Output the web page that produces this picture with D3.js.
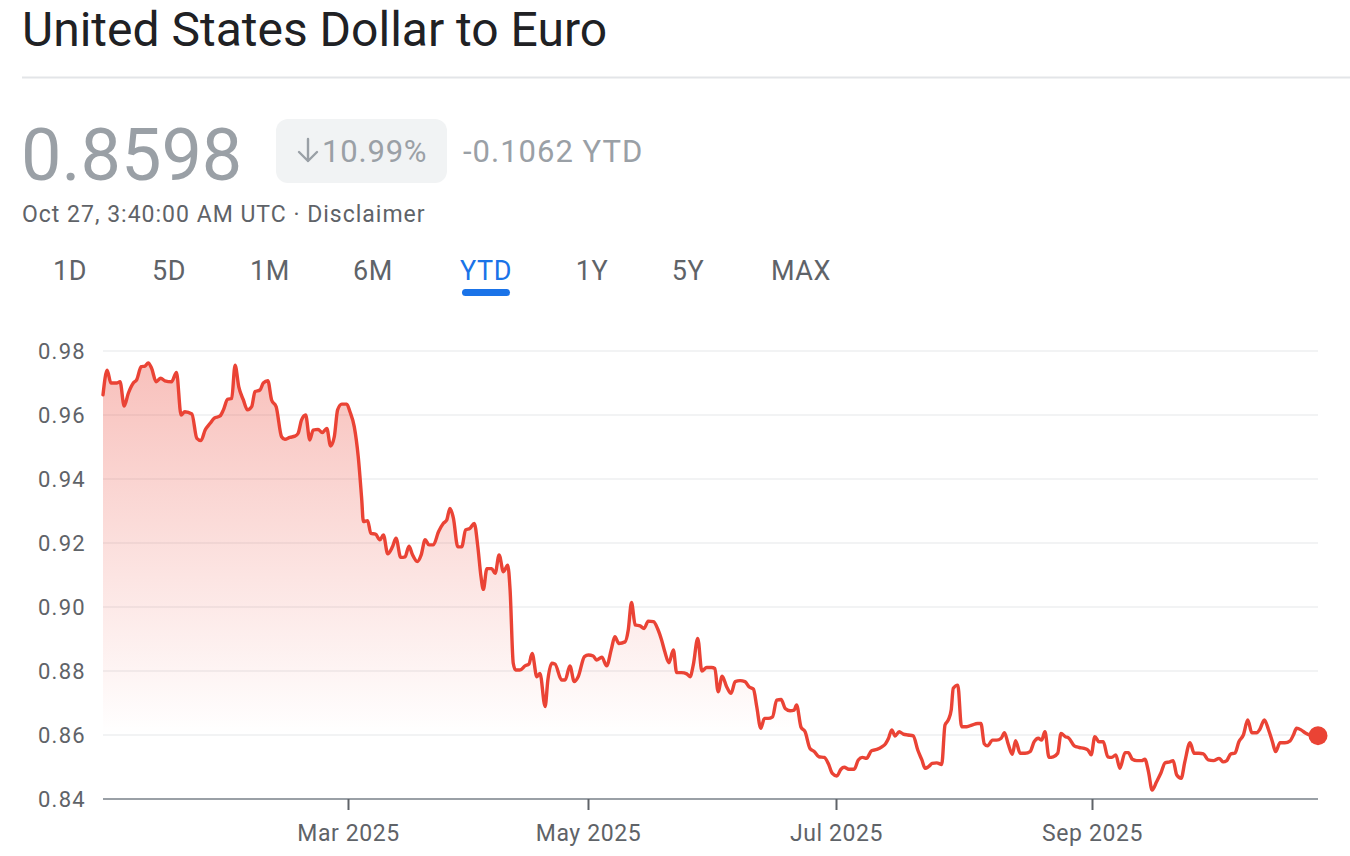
<!DOCTYPE html>
<html>
<head>
<meta charset="utf-8">
<script src="https://cdn.jsdelivr.net/npm/d3@7"></script>
<style>
  html, body { margin: 0; padding: 0; background: #fff; }
  svg { display: block; }
  text { font-family: Roboto, "Noto Sans", sans-serif; }
</style>
</head>
<body>
<svg id="chart" width="1350" height="856"></svg>
<script>
// ---------------- DATA ----------------
const title = "United States Dollar to Euro";
const lastPrice = "0.8598";
const changePct = "10.99%";
const changeAbs = "-0.1062 YTD";
const timestamp = "Oct 27, 3:40:00 AM UTC · Disclaimer";
const ranges = ["1D", "5D", "1M", "6M", "YTD", "1Y", "5Y", "MAX"];
const activeRange = "YTD";

const yTicks = [0.84, 0.86, 0.88, 0.90, 0.92, 0.94, 0.96, 0.98];
const xTickDates = ["2025-03-01", "2025-05-01", "2025-07-01", "2025-09-01"];
const xTickLabels = ["Mar 2025", "May 2025", "Jul 2025", "Sep 2025"];
const periodStart = "2025-01-01";
const periodEnd = "2025-10-27";

// [days since Jan 1 2025, USD->EUR rate]
const rateSeries = [
  [0,0.9663],[1.0,0.9740],[1.9,0.9700],[3.3,0.9700],[4.1,0.9704],[5.1,0.9628],[6.1,0.9668],[7.3,0.9700],
  [8.1,0.9710],[9.2,0.9751],[10.1,0.9753],[10.9,0.9763],[11.7,0.9746],[12.8,0.9704],[13.9,0.9715],[14.9,0.9707],
  [16.5,0.9704],[17.7,0.9733],[18.8,0.9600],[19.7,0.9610],[21.4,0.9603],[22.6,0.9527],[23.6,0.9520],[24.6,0.9553],
  [25.8,0.9574],[26.8,0.9590],[28.2,0.9597],[29.0,0.9616],[30.0,0.9649],[31.0,0.9652],[31.8,0.9756],[32.7,0.9688],
  [33.8,0.9647],[34.8,0.9616],[35.8,0.9626],[36.6,0.9673],[37.8,0.9678],[38.6,0.9700],[39.7,0.9707],[40.6,0.9647],
  [41.7,0.9626],[43.0,0.9532],[43.8,0.9524],[45.0,0.9530],[46.2,0.9534],[47.0,0.9543],[47.8,0.9584],[48.8,0.9600],
  [49.8,0.9522],[50.6,0.9553],[51.8,0.9555],[52.8,0.9545],[53.9,0.9558],[54.8,0.9503],[55.7,0.9532],[56.5,0.9616],
  [57.5,0.9634],[58.7,0.9634],
  [59.5,0.9610],[60.6,0.9563],[61.6,0.9470],[62.5,0.9334],[62.9,0.9267],[64.0,0.9270],[64.8,0.9230],[66.0,0.9228],
  [67.1,0.9210],[68.0,0.9225],[69.1,0.9166],[70.3,0.9188],[71.2,0.9215],[72.4,0.9155],[73.5,0.9157],[74.5,0.9190],
  [75.4,0.9163],[76.6,0.9142],[77.6,0.9163],[78.6,0.9210],[79.6,0.9194],[80.7,0.9194],[82.0,0.9235],[83.2,0.9261],
  [84.1,0.9272],[84.9,0.9308],[85.8,0.9277],[86.9,0.9188],[87.9,0.9188],[88.9,0.9241],[90.0,0.9246],[91.1,0.9261],
  [92.0,0.9188],[92.8,0.9095],[93.4,0.9055],[94.3,0.9120],[95.5,0.9120],[96.4,0.9105],[97.4,0.9163],[98.5,0.9110],
  [99.6,0.9131],[100.2,0.9053],[101.0,0.8824],[101.6,0.8803],[102.7,0.8803],[104.0,0.8816],[105.0,0.8822],[105.8,0.8855],
  [107.0,0.8782],[107.8,0.8792],[109.1,0.8689],[109.8,0.8772],[110.8,0.8824],[111.6,0.8822],[113.3,0.8772],[114.2,0.8772],
  [115.4,0.8816],[116.5,0.8767],[117.5,0.8782],[119.1,0.8845],
  [120.1,0.8850],[121.3,0.8847],[122.1,0.8834],[123.4,0.8843],[124.6,0.8816],[125.7,0.8866],[126.6,0.8907],[127.6,0.8886],
  [129.1,0.8891],[129.9,0.8928],[130.7,0.9014],[131.6,0.8944],[132.8,0.8941],[133.8,0.8933],[134.8,0.8956],[136.1,0.8954],
  [137.1,0.8933],[138.1,0.8897],[138.9,0.8860],[139.9,0.8826],[141.0,0.8866],[141.8,0.8795],[143.0,0.8795],[144.3,0.8791],
  [145.1,0.8782],[145.9,0.8819],[147.0,0.8902],[148.0,0.8800],[149.2,0.8811],[150.4,0.8811],[151.2,0.8808],[152.0,0.8735],
  [153.0,0.8784],[154.1,0.8751],[155.2,0.8730],[156.2,0.8767],[157.4,0.8770],[158.6,0.8767],[159.6,0.8751],[160.7,0.8743],
  [161.5,0.8689],[162.5,0.8621],[163.4,0.8652],[164.3,0.8652],[165.4,0.8657],[166.4,0.8709],[167.5,0.8711],[168.5,0.8683],
  [169.7,0.8676],[170.7,0.8678],[171.3,0.8694],[172.4,0.8624],[173.4,0.8610],[174.6,0.8558],[175.7,0.8548],[176.8,0.8532],
  [178.1,0.8530],[179.1,0.8511],[180.1,0.8480],
  [181.2,0.8472],[182.2,0.8493],[183.0,0.8499],[184.1,0.8493],[185.4,0.8493],[186.4,0.8522],[187.4,0.8530],[188.4,0.8527],
  [189.6,0.8551],[190.9,0.8555],[192.1,0.8563],[193.0,0.8573],[193.7,0.8589],[194.5,0.8616],[195.3,0.8597],[196.3,0.8610],
  [197.3,0.8603],[198.5,0.8600],[199.7,0.8597],[200.8,0.8553],[201.8,0.8522],[202.6,0.8496],[203.4,0.8501],[204.3,0.8511],
  [205.4,0.8513],[206.6,0.8508],[207.4,0.8631],[208.2,0.8647],[208.9,0.8678],[209.4,0.8746],[210.5,0.8756],[211.4,0.8626],
  [212.7,0.8626],[213.9,0.8631],[215.3,0.8636],[216.1,0.8636],[216.9,0.8573],[217.7,0.8566],[218.9,0.8584],[219.9,0.8584],
  [221.0,0.8590],[221.8,0.8607],[222.7,0.8572],[223.7,0.8540],[224.5,0.8582],[225.6,0.8543],[226.8,0.8543],[228.0,0.8548],
  [229.0,0.8579],[230.0,0.8590],[230.8,0.8584],[231.6,0.8610],[232.6,0.8530],[233.6,0.8532],[234.7,0.8543],[235.5,0.8605],
  [236.5,0.8595],[237.4,0.8590],[238.7,0.8566],[239.9,0.8561],[241.1,0.8558],[242.0,0.8553],[242.8,0.8538],
  [243.7,0.8595],[244.7,0.8579],[245.8,0.8579],[246.9,0.8532],[247.9,0.8530],[248.9,0.8538],[249.9,0.8496],[251.2,0.8545],
  [252.0,0.8545],[253.0,0.8524],[254.1,0.8520],[255.3,0.8520],[256.1,0.8524],[257.0,0.8485],[257.9,0.8428],[259.0,0.8454],
  [260.1,0.8482],[261.1,0.8513],[262.3,0.8516],[263.1,0.8520],[264.0,0.8475],[265.1,0.8465],[266.0,0.8516],[267.3,0.8576],
  [268.3,0.8543],[269.5,0.8543],[270.6,0.8541],[271.8,0.8522],[273.1,0.8520],[274.5,0.8527],[275.5,0.8516],[276.4,0.8520],
  [277.4,0.8541],[278.4,0.8543],[279.4,0.8579],[280.5,0.8600],[281.6,0.8647],[282.6,0.8607],[283.8,0.8607],[284.6,0.8618],
  [285.7,0.8647],[286.7,0.8618],[287.7,0.8579],[288.5,0.8548],[289.6,0.8576],[290.8,0.8576],[292.1,0.8582],[292.9,0.8600],
  [293.7,0.8621],[294.8,0.8616],[295.8,0.8607],[297.0,0.8600],[299.0,0.8598]
];

// ---------------- RENDER ----------------
const svg = d3.select("#chart");
const DAY = 864e5;
const t0 = new Date(periodStart + "T00:00:00Z").getTime();
const data = rateSeries.map(([d, v]) => ({ date: new Date(t0 + d * DAY), value: v }));
const parse = s => new Date(s + "T00:00:00Z");

// header
svg.append("text").attr("x", 22).attr("y", 46).attr("font-size", 48)
  .attr("fill", "#202124").text(title);
svg.append("line").attr("x1", 22).attr("x2", 1350).attr("y1", 77.5).attr("y2", 77.5)
  .attr("stroke", "#e3e5e8").attr("stroke-width", 2);

svg.append("text").attr("x", 21).attr("y", 180).attr("font-size", 72)
  .attr("fill", "#9aa0a6").text(lastPrice);
svg.append("rect").attr("x", 276).attr("y", 119).attr("width", 171).attr("height", 64)
  .attr("rx", 12).attr("fill", "#f1f3f4");
// down arrow icon
svg.append("path")
  .attr("d", "M308,139 V161 M299,152 L308,161 L317,152")
  .attr("fill", "none").attr("stroke", "#9aa0a6").attr("stroke-width", 2.4)
  .attr("stroke-linecap", "round").attr("stroke-linejoin", "round");
svg.append("text").attr("x", 322).attr("y", 162).attr("font-size", 31).attr("letter-spacing", 0.8)
  .attr("fill", "#9aa0a6").text(changePct);
svg.append("text").attr("x", 463).attr("y", 162).attr("font-size", 31).attr("letter-spacing", 1)
  .attr("fill", "#9aa0a6").text(changeAbs);
svg.append("text").attr("x", 22).attr("y", 222).attr("font-size", 23).attr("letter-spacing", 1.0)
  .attr("fill", "#5f6368").text(timestamp);

const tabCenters = [70, 169, 270, 373, 486, 592, 688, 801];
ranges.forEach((r, i) => {
  svg.append("text").attr("x", tabCenters[i]).attr("y", 280).attr("font-size", 27)
    .attr("text-anchor", "middle").attr("letter-spacing", 0.6)
    .attr("fill", r === activeRange ? "#1a73e8" : "#5f6368").text(r);
});
const ai = ranges.indexOf(activeRange);
svg.append("rect").attr("x", tabCenters[ai] - 24).attr("y", 289).attr("width", 48).attr("height", 7)
  .attr("rx", 3.5).attr("fill", "#1a73e8");

// scales
const x = d3.scaleUtc()
  .domain([parse(periodStart), ...xTickDates.map(parse), parse(periodEnd)])
  .range([103, 348, 588, 836, 1092, 1318]);
const y = d3.scaleLinear().domain([0.84, 0.98]).range([799, 351]);

// grid
svg.append("g").selectAll("line").data(yTicks.filter(v => v > 0.84)).join("line")
  .attr("x1", 103).attr("x2", 1318)
  .attr("y1", d => y(d)).attr("y2", d => y(d))
  .attr("stroke", "#eeeff0").attr("stroke-width", 1.5);

// y labels
svg.append("g").selectAll("text").data(yTicks).join("text")
  .attr("x", 86).attr("y", d => y(d)).attr("dy", "0.36em")
  .attr("text-anchor", "end").attr("font-size", 22).attr("letter-spacing", 1.3)
  .attr("fill", "#5f6368").text(d => d.toFixed(2));

// area gradient
const defs = svg.append("defs");
const grad = defs.append("linearGradient").attr("id", "fillGrad")
  .attr("gradientUnits", "userSpaceOnUse").attr("x1", 0).attr("x2", 0)
  .attr("y1", y(0.975)).attr("y2", y(0.84));
grad.append("stop").attr("offset", 0).attr("stop-color", "#ea4335").attr("stop-opacity", 0.33);
grad.append("stop").attr("offset", 0.85).attr("stop-color", "#ea4335").attr("stop-opacity", 0.0);

const area = d3.area().x(d => x(d.date)).y0(y(0.84)).y1(d => y(d.value));
svg.append("path").datum(data).attr("d", area).attr("fill", "url(#fillGrad)");

// x axis
const xAxis = d3.axisBottom(x)
  .tickValues(xTickDates.map(parse))
  .tickFormat((d, i) => xTickLabels[i])
  .tickSize(11).tickPadding(15).tickSizeOuter(0);
const gx = svg.append("g").attr("transform", `translate(0,${y(0.84)})`).call(xAxis);
gx.select(".domain").attr("stroke", "#9aa0a6").attr("stroke-width", 2)
  .attr("d", `M${x.range()[0]},0H${x.range()[x.range().length - 1]}`);
gx.selectAll(".tick line").attr("stroke", "#5f6368").attr("stroke-width", 2);
gx.selectAll(".tick text").attr("font-size", 23).attr("letter-spacing", 0.6).attr("fill", "#5f6368")
  .attr("font-family", "Roboto, sans-serif");

// line
const line = d3.line().x(d => x(d.date)).y(d => y(d.value)).curve(d3.curveMonotoneX);
svg.append("path").datum(data).attr("d", line).attr("fill", "none")
  .attr("stroke", "#ea4335").attr("stroke-width", 3.4)
  .attr("stroke-linejoin", "round").attr("stroke-linecap", "round");

const last = data[data.length - 1];
svg.append("circle").attr("cx", x(last.date)).attr("cy", y(last.value)).attr("r", 9.5)
  .attr("fill", "#ea4335");
</script>
</body>
</html>
